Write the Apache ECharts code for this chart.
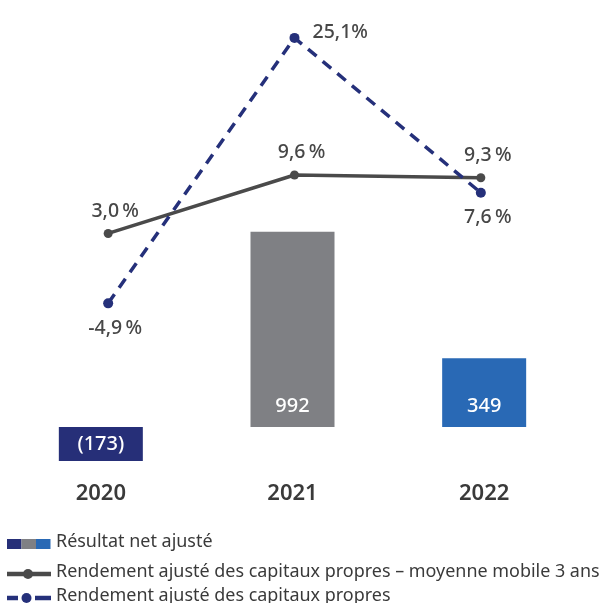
<!DOCTYPE html>
<html>
<head>
<meta charset="utf-8">
<script src="https://cdn.jsdelivr.net/npm/echarts@6/dist/echarts.min.js"></script>
<style>
  html, body { margin: 0; padding: 0; background: #ffffff; }
  #chart { width: 604px; height: 603px; }
</style>
</head>
<body>
<div id="chart"></div>
<script>
// Years shown on the category axis
const years = ['2020', '2021', '2022'];
// Adjusted net income (bars), in millions
const netIncome = [-173, 992, 349];
const barColors = ['#262f78', '#7f8084', '#2969b5'];
// Adjusted return on equity, 3-year moving average (solid line), in %
const roeMoving = [3.0, 9.6, 9.3];
// Adjusted return on equity (dashed line), in %
const roe = [-4.9, 25.1, 7.6];
// Legend texts
const legendNames = [
  'Résultat net ajusté',
  'Rendement ajusté des capitaux propres – moyenne mobile 3 ans',
  'Rendement ajusté des capitaux propres'
];

const NNBSP = '\u202F';
const fmtPct = v => v.toFixed(1).replace('.', ',') + (v > 20 ? '' : NNBSP) + '%';

const FONT = '"Noto Sans", sans-serif';
const textGrey = '#474747';
const lineGrey = '#4a4a4a';
const navy = '#25307a';

const gridTop = 20, gridBottom = 133; // plot area runs from y=20 to y=470

const chart = echarts.init(document.getElementById('chart'), null, { renderer: 'canvas' });

const pctLabel = (pos, offset) => ({
  show: true, position: pos, offset: offset || [0, 0],
  formatter: p => fmtPct(p.value),
  color: textGrey, fontFamily: FONT, fontSize: 19.5, fontWeight: 500
});

// Legend drawn as graphic elements
const legendY = [544, 574, 598];
const legendGraphics = [];
// three colour swatches for the bars
barColors.forEach((c, i) => {
  legendGraphics.push({
    type: 'rect', left: 7 + i * 14.5, top: legendY[0] - 5,
    shape: { width: 14.5, height: 10 }, style: { fill: c }
  });
});
// solid line with marker
legendGraphics.push({ type: 'line', shape: { x1: 7, y1: legendY[1], x2: 51, y2: legendY[1] },
  style: { stroke: lineGrey, lineWidth: 4.5 } });
legendGraphics.push({ type: 'circle', shape: { cx: 28, cy: legendY[1], r: 5 }, style: { fill: lineGrey } });
// dashed line with marker
legendGraphics.push({ type: 'line', shape: { x1: 7, y1: legendY[2], x2: 18, y2: legendY[2] },
  style: { stroke: navy, lineWidth: 4.5 } });
legendGraphics.push({ type: 'line', shape: { x1: 35, y1: legendY[2], x2: 51, y2: legendY[2] },
  style: { stroke: navy, lineWidth: 4.5 } });
legendGraphics.push({ type: 'circle', shape: { cx: 26.5, cy: legendY[2], r: 5 }, style: { fill: navy } });
legendNames.forEach((name, i) => {
  legendGraphics.push({
    type: 'text', left: 56, top: legendY[i] - 11,
    style: { text: name, fill: '#3a3a3a', font: '400 17.95px ' + FONT }
  });
});

chart.setOption({
  animation: false,
  backgroundColor: '#ffffff',
  grid: [
    { left: 5, right: 24, top: gridTop, bottom: gridBottom },
    { left: 15, right: 30, top: gridTop, bottom: gridBottom }
  ],
  xAxis: [
    {
      type: 'category', data: years, gridIndex: 0,
      axisLine: { show: false }, axisTick: { show: false },
      axisLabel: { margin: 13, color: '#3a3a3a', fontFamily: FONT, fontSize: 22, fontWeight: 600 }
    },
    {
      type: 'category', data: years, gridIndex: 1, show: false
    }
  ],
  yAxis: [
    { type: 'value', gridIndex: 0, min: -218.6, max: 2069, show: false, splitLine: { show: false } },
    { type: 'value', gridIndex: 1, min: -23.73, max: 27.12, show: false, splitLine: { show: false } }
  ],
  series: [
    {
      name: legendNames[0], type: 'bar', xAxisIndex: 0, yAxisIndex: 0,
      barWidth: 84,
      data: netIncome.map((v, i) => ({
        value: v,
        itemStyle: { color: barColors[i] },
        label: v < 0 ? { position: 'inside' } : { position: 'insideBottom', distance: 11 }
      })),
      label: {
        show: true, color: '#ffffff', fontFamily: FONT, fontSize: 20, fontWeight: 500,
        formatter: p => p.value < 0 ? '(' + Math.abs(p.value) + ')' : String(p.value)
      }
    },
    {
      name: legendNames[1], type: 'line', xAxisIndex: 1, yAxisIndex: 1,
      data: roeMoving.map((v, i) => ({ value: v })),
      symbol: 'circle', symbolSize: 9,
      lineStyle: { color: lineGrey, width: 3.5 },
      itemStyle: { color: lineGrey },
      label: pctLabel('top', [7, -3]),
      z: 3
    },
    {
      name: legendNames[2], type: 'line', xAxisIndex: 1, yAxisIndex: 1,
      data: roe.map((v, i) => ({
        value: v,
        label: i === 1 ? { position: 'right', offset: [8, -5] } : { position: 'bottom', offset: [7, 5] }
      })),
      symbol: 'circle', symbolSize: 10,
      lineStyle: { color: navy, width: 3.5, type: [11, 8] },
      itemStyle: { color: navy },
      label: pctLabel('bottom'),
      z: 4
    }
  ],
  graphic: legendGraphics
});
</script>
</body>
</html>
